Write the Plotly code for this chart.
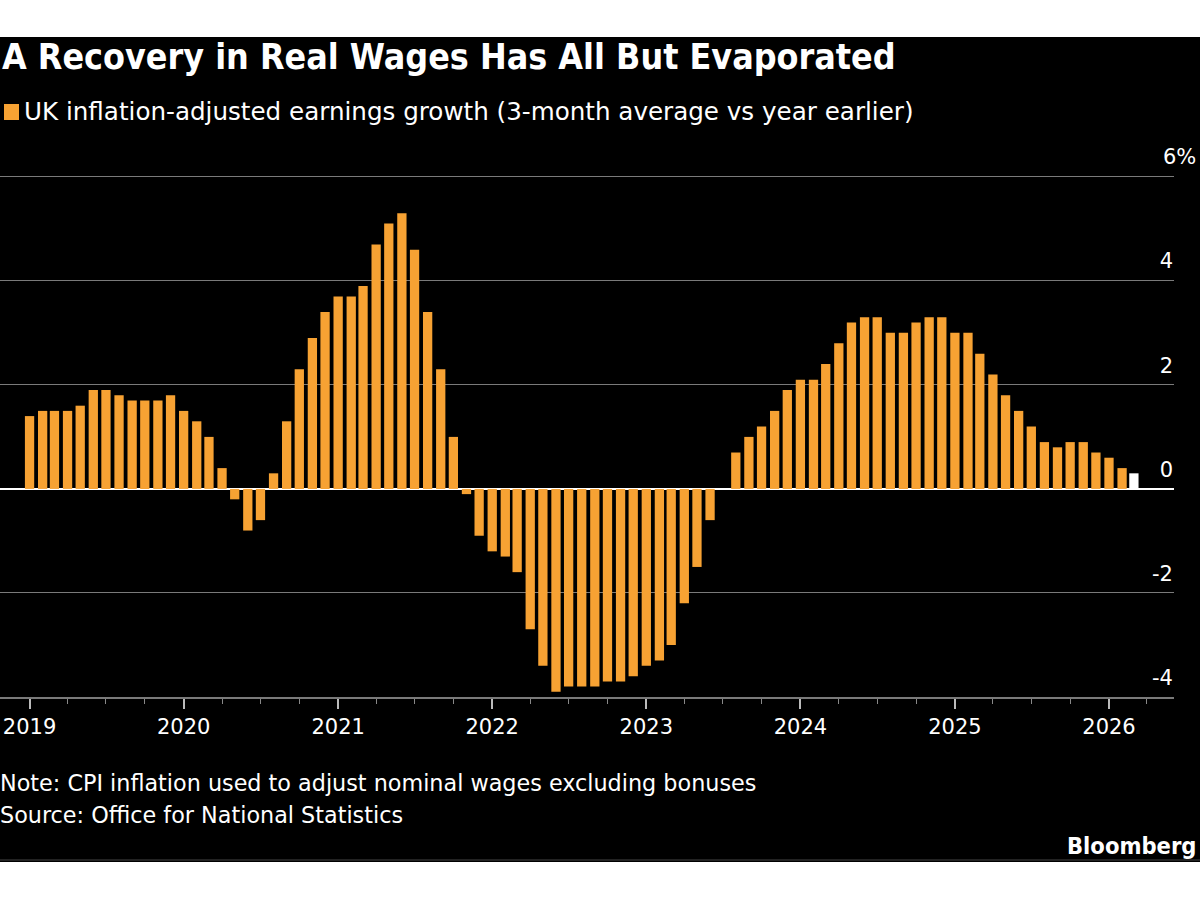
import pandas as pd
import plotly.graph_objects as go

# ---- data (monthly, Jan 2019 - Mar 2026) ----
y2019 = [1.4, 1.5, 1.5, 1.5, 1.6, 1.9, 1.9, 1.8, 1.7, 1.7, 1.7, 1.8]
y2020 = [1.5, 1.3, 1.0, 0.4, -0.2, -0.8, -0.6, 0.3, 1.3, 2.3, 2.9, 3.4]
y2021 = [3.7, 3.7, 3.9, 4.7, 5.1, 5.3, 4.6, 3.4, 2.3, 1.0, -0.1, -0.9]
y2022 = [-1.2, -1.3, -1.6, -2.7, -3.4, -3.9, -3.8, -3.8, -3.8, -3.7, -3.7, -3.6]
y2023 = [-3.4, -3.3, -3.0, -2.2, -1.5, -0.6, 0.0, 0.7, 1.0, 1.2, 1.5, 1.9]
y2024 = [2.1, 2.1, 2.4, 2.8, 3.2, 3.3, 3.3, 3.0, 3.0, 3.2, 3.3, 3.3]
y2025 = [3.0, 3.0, 2.6, 2.2, 1.8, 1.5, 1.2, 0.9, 0.8, 0.9, 0.9, 0.7]
y2026 = [0.6, 0.4, 0.3]

values = y2019 + y2020 + y2021 + y2022 + y2023 + y2024 + y2025 + y2026
months = pd.date_range("2019-01-01", periods=len(values), freq="MS")

year_ticks = [f"{y}-01-01" for y in range(2019, 2027)]
year_labels = [str(y) for y in range(2019, 2027)]
y_ticks = [-4, -2, 0, 2, 4, 6]
y_labels = ["-4", "-2", "0", "2", "4", ""]
top_label = "6%"

title = "A Recovery in Real Wages Has All But Evaporated"
legend_text = "UK inflation-adjusted earnings growth (3-month average vs year earlier)"
note_text = "Note: CPI inflation used to adjust nominal wages excluding bonuses"
source_text = "Source: Office for National Statistics"

# ---- styling ----
ORANGE = "#F7A233"
FONT_C = "DejaVu Sans Condensed, DejaVu Sans, sans-serif"
FONT = "DejaVu Sans, sans-serif"
W, H = 1200, 900
ML, MR, MT, MB = 0, 26, 169, 203
PW = W - ML - MR
PH = H - MT - MB


def px_x(px):
    return (px - ML) / PW


def px_y(py):
    return (H - MB - py) / PH


colors = [ORANGE] * (len(values) - 1) + ["#FFFFFF"]
bar_width_ms = 22 * 24 * 3600 * 1000

fig = go.Figure()
fig.add_trace(go.Bar(
    x=months, y=values,
    marker=dict(color=colors, line=dict(width=0)),
    width=[bar_width_ms] * len(values),
    showlegend=False,
))

fig.update_layout(
    width=W, height=H, autosize=False,
    margin=dict(l=ML, r=MR, t=MT, b=MB, pad=0),
    paper_bgcolor="#FFFFFF",
    plot_bgcolor="rgba(0,0,0,0)",
    font=dict(family=FONT, color="#FFFFFF", size=21),
    xaxis=dict(
        type="date",
        range=["2018-10-23", "2026-06-04"],
        tickvals=year_ticks, ticktext=year_labels,
        ticks="outside", ticklen=10, tickwidth=1.5, tickcolor="#BBBBBB",
        showgrid=False, zeroline=False,
        showline=True, linecolor="#7A7A7A", linewidth=1.5,
        tickfont=dict(size=21, color="#FFFFFF", family=FONT),
        minor=dict(dtick="M3", tick0="2019-01-01", ticks="outside", ticklen=5,
                   tickwidth=1, tickcolor="#888888", showgrid=False),
        automargin=False,
        fixedrange=True,
    ),
    yaxis=dict(
        range=[-4, 6.15],
        side="right",
        tickvals=y_ticks, ticktext=y_labels,
        ticklabelposition="inside top",
        ticklabelshift=-5,
        ticklabelstandoff=-2,
        ticks="",
        showgrid=True, gridcolor="#7A7A7A", gridwidth=1.3,
        zeroline=True, zerolinecolor="#FFFFFF", zerolinewidth=2,
        tickfont=dict(size=21, color="#FFFFFF", family=FONT),
        automargin=False,
        fixedrange=True,
    ),
    shapes=[
        dict(type="rect", xref="paper", yref="paper", layer="below",
             x0=px_x(-5), x1=px_x(1205), y0=px_y(862), y1=px_y(37),
             fillcolor="#000000", line=dict(width=0)),
        dict(type="line", xref="paper", yref="paper", layer="below",
             x0=px_x(-5), x1=px_x(1205), y0=px_y(860), y1=px_y(860),
             line=dict(color="#444444", width=1)),
        dict(type="rect", xref="paper", yref="paper",
             x0=px_x(4), x1=px_x(19), y0=px_y(120), y1=px_y(104),
             fillcolor=ORANGE, line=dict(width=0)),
    ],
    annotations=[
        dict(text=f"<b>{title}</b>", xref="paper", yref="paper",
             x=px_x(0), y=px_y(57), xanchor="left", yanchor="middle",
             showarrow=False, font=dict(size=35.5, color="#FFFFFF", family=FONT_C)),
        dict(text=legend_text, xref="paper", yref="paper",
             x=px_x(22), y=px_y(111), xanchor="left", yanchor="middle",
             showarrow=False, font=dict(size=24.6, color="#FFFFFF", family=FONT)),
        dict(text=note_text, xref="paper", yref="paper",
             x=px_x(-2), y=px_y(783), xanchor="left", yanchor="middle",
             showarrow=False, font=dict(size=22.3, color="#FFFFFF", family=FONT)),
        dict(text=source_text, xref="paper", yref="paper",
             x=px_x(-2), y=px_y(815), xanchor="left", yanchor="middle",
             showarrow=False, font=dict(size=22.3, color="#FFFFFF", family=FONT)),
        dict(text="<b>Bloomberg</b>", xref="paper", yref="paper",
             x=px_x(1198), y=px_y(846), xanchor="right", yanchor="middle",
             showarrow=False, font=dict(size=23.5, color="#FFFFFF", family=FONT_C)),
        dict(text=top_label, xref="paper", yref="y",
             x=px_x(1198), y=6, yshift=20, xanchor="right", yanchor="middle",
             showarrow=False, font=dict(size=21, color="#FFFFFF", family=FONT)),
    ],
)

fig.write_html("out.html")
